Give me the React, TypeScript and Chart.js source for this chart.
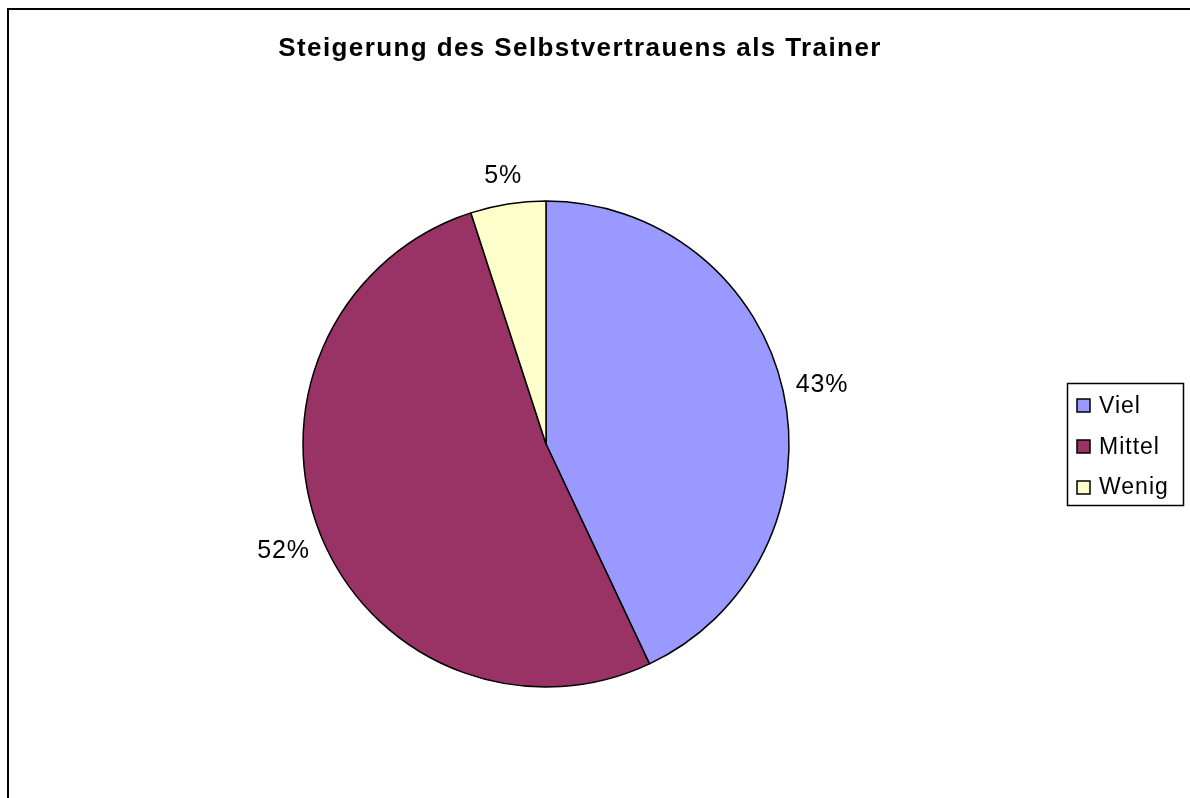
import React, { useEffect, useRef } from "react";
import { Chart, registerables } from "chart.js";

Chart.register(...registerables);

const titleText = "Steigerung des Selbstvertrauens als Trainer";
const categories = ["Viel", "Mittel", "Wenig"];
const values = [43, 52, 5];
const colors = ["#9999FF", "#993366", "#FFFFCC"];

const FONT = '"Liberation Sans", Arial, sans-serif';

const decorPlugin = {
  id: "decor",
  beforeDraw(chart: any) {
    const ctx = chart.ctx;
    ctx.save();
    ctx.fillStyle = "#000";
    ctx.fillRect(7, 8, 2, chart.height);
    ctx.fillRect(7, 8, chart.width, 2);
    ctx.restore();
  },
  afterDatasetsDraw(chart: any) {
    const ctx = chart.ctx;
    const meta = chart.getDatasetMeta(0);
    const data = chart.data.datasets[0].data as number[];
    const total = data.reduce((a, b) => a + b, 0);
    ctx.save();
    ctx.fillStyle = "#000";
    ctx.font = `25px ${FONT}`;
    (ctx as any).letterSpacing = "0.8px";
    ctx.textAlign = "left";
    ctx.textBaseline = "middle";
    meta.data.forEach((arc: any, i: number) => {
      const p = arc.getProps(["x", "y", "startAngle", "endAngle", "outerRadius"], true);
      const mid = (p.startAngle + p.endAngle) / 2;
      const d = p.outerRadius + 30 + 10 * Math.abs(Math.cos(mid));
      const lx = p.x + Math.cos(mid) * d;
      const ly = p.y + Math.sin(mid) * d + 3;
      const txt = Math.round((data[i] / total) * 100) + "%";
      const w = ctx.measureText(txt).width;
      ctx.fillText(txt, lx - w / 2, ly);
    });
    ctx.restore();
  },
  afterDraw(chart: any) {
    const ctx = chart.ctx;
    ctx.save();
    ctx.fillStyle = "#000";
    ctx.font = `bold 26px ${FONT}`;
    (ctx as any).letterSpacing = "1.4px";
    ctx.textAlign = "left";
    ctx.textBaseline = "alphabetic";
    const tw = ctx.measureText(titleText).width;
    ctx.fillText(titleText, 580 - tw / 2, 56);

    const ds = chart.data.datasets[0];
    const labels = chart.data.labels as string[];
    ctx.lineWidth = 1.5;
    ctx.strokeStyle = "#000";
    ctx.strokeRect(1067.5, 383.5, 116, 122);
    ctx.font = `23px ${FONT}`;
    (ctx as any).letterSpacing = "1px";
    labels.forEach((lab, i) => {
      const sy = 399 + i * 41;
      ctx.fillStyle = (ds.backgroundColor as string[])[i];
      ctx.fillRect(1077, sy, 13, 13);
      ctx.lineWidth = 1.5;
      ctx.strokeRect(1077, sy, 13, 13);
      ctx.fillStyle = "#000";
      ctx.fillText(lab, 1099, 413 + i * 40.5);
    });
    ctx.restore();
  },
};

export default function App() {
  const ref = useRef<HTMLCanvasElement>(null);
  useEffect(() => {
    if (!ref.current) return;
    const chart = new Chart(ref.current, {
      type: "pie",
      data: {
        labels: categories,
        datasets: [
          {
            data: values,
            backgroundColor: colors,
            borderColor: "#000",
            borderWidth: 1.5,
            radius: 243,
          } as any,
        ],
      },
      options: {
        responsive: false,
        animation: false,
        devicePixelRatio: 1,
        layout: { padding: { left: 0, right: 98, top: 90, bottom: 0 } },
        plugins: {
          legend: { display: false },
          title: { display: false },
          tooltip: { enabled: false },
        },
      },
      plugins: [decorPlugin],
    });
    return () => chart.destroy();
  }, []);
  return (
    <canvas
      ref={ref}
      width={1190}
      height={798}
      style={{ position: "fixed", left: 0, top: 0, width: 1190, height: 798, background: "#fff" }}
    />
  );
}
